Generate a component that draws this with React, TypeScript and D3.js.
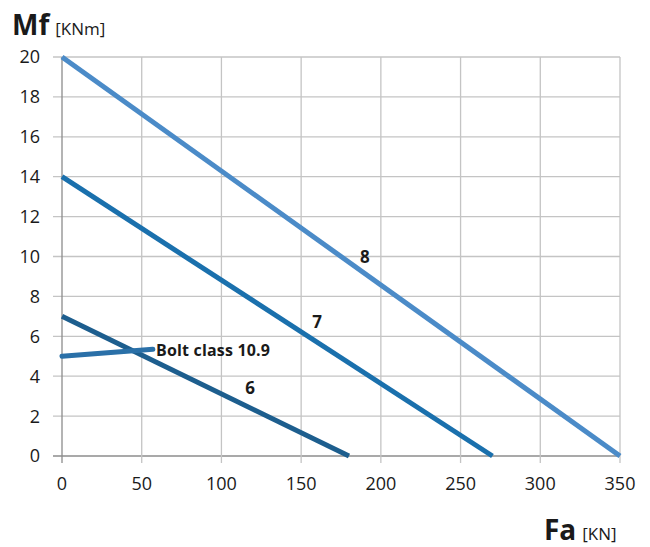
import React from "react";
import * as d3 from "d3";

const xTicks = [0, 50, 100, 150, 200, 250, 300, 350];
const yTicks = [0, 2, 4, 6, 8, 10, 12, 14, 16, 18, 20];

const seriesNames = ["6", "7", "8"];
const seriesStart = [
  [0, 7],
  [0, 14],
  [0, 20],
];
const seriesEnd = [
  [180, 0],
  [270, 0],
  [350, 0],
];
const seriesColors = ["#1d5e8e", "#1a70ad", "#4b8bc8"];
const labelPos = [
  [118, 3.4],
  [160, 6.7],
  [190, 10.0],
];
const boltLine = [
  [0, 5],
  [57, 5.35],
];
const boltLabel = "Bolt class 10.9";

const W = 650;
const H = 547;
const margin = { left: 62, right: 30, top: 57, bottom: 91 };

export default function App() {
  const x = d3.scaleLinear().domain([0, 350]).range([margin.left, W - margin.right]);
  const y = d3.scaleLinear().domain([0, 20]).range([H - margin.bottom, margin.top]);
  const line = d3
    .line<number[]>()
    .x((d) => x(d[0]))
    .y((d) => y(d[1]));
  const font = "'Open Sans', sans-serif";
  return (
    <svg
      width={W}
      height={H}
      style={{ position: "absolute", left: 0, top: 0, background: "#fff" }}
      fontFamily={font}
    >
      {yTicks.map((t) => (
        <line
          key={"gy" + t}
          x1={x(0) - 9}
          x2={x(350)}
          y1={y(t)}
          y2={y(t)}
          stroke={t === 0 ? "#8c8c8c" : "#c4c4c4"}
          strokeWidth={1.3}
        />
      ))}
      {xTicks.map((t) => (
        <line
          key={"gx" + t}
          x1={x(t)}
          x2={x(t)}
          y1={y(20)}
          y2={y(0) + 7}
          stroke={t === 0 ? "#8c8c8c" : "#c4c4c4"}
          strokeWidth={1.3}
        />
      ))}
      {yTicks.map((t) => (
        <text
          key={"ty" + t}
          x={40}
          y={y(t)}
          dy="0.36em"
          textAnchor="end"
          fontSize={18}
          fill="#1a1a1a"
        >
          {t}
        </text>
      ))}
      {xTicks.map((t) => (
        <text
          key={"tx" + t}
          x={x(t)}
          y={490}
          textAnchor="middle"
          fontSize={18}
          fill="#1a1a1a"
        >
          {t}
        </text>
      ))}
      {seriesNames.map((n, i) => (
        <path
          key={"s" + n}
          d={line([seriesStart[i], seriesEnd[i]]) || ""}
          stroke={seriesColors[i]}
          strokeWidth={5}
          fill="none"
        />
      ))}
      <path
        d={line(boltLine) || ""}
        stroke="#2a70a8"
        strokeWidth={5}
        strokeLinecap="round"
        fill="none"
      />
      {seriesNames.map((n, i) => (
        <text
          key={"l" + n}
          x={x(labelPos[i][0])}
          y={y(labelPos[i][1])}
          dy="0.36em"
          textAnchor="middle"
          fontSize={17}
          fontWeight="bold"
          fill="#1a1a1a"
        >
          {n}
        </text>
      ))}
      <text
        x={156}
        y={y(5.3)}
        dy="0.36em"
        fontSize={16}
        fontWeight="bold"
        fill="#1a1a1a"
        textLength={114}
      >
        {boltLabel}
      </text>
      <text x={12} y={35} fill="#1a1a1a">
        <tspan fontSize={28} fontWeight="bold">Mf</tspan>
        <tspan fontSize={17} dx={6}>[KNm]</tspan>
      </text>
      <text x={544} y={540} fill="#1a1a1a">
        <tspan fontSize={28} fontWeight="bold">Fa</tspan>
        <tspan fontSize={17} dx={6}>[KN]</tspan>
      </text>
    </svg>
  );
}
